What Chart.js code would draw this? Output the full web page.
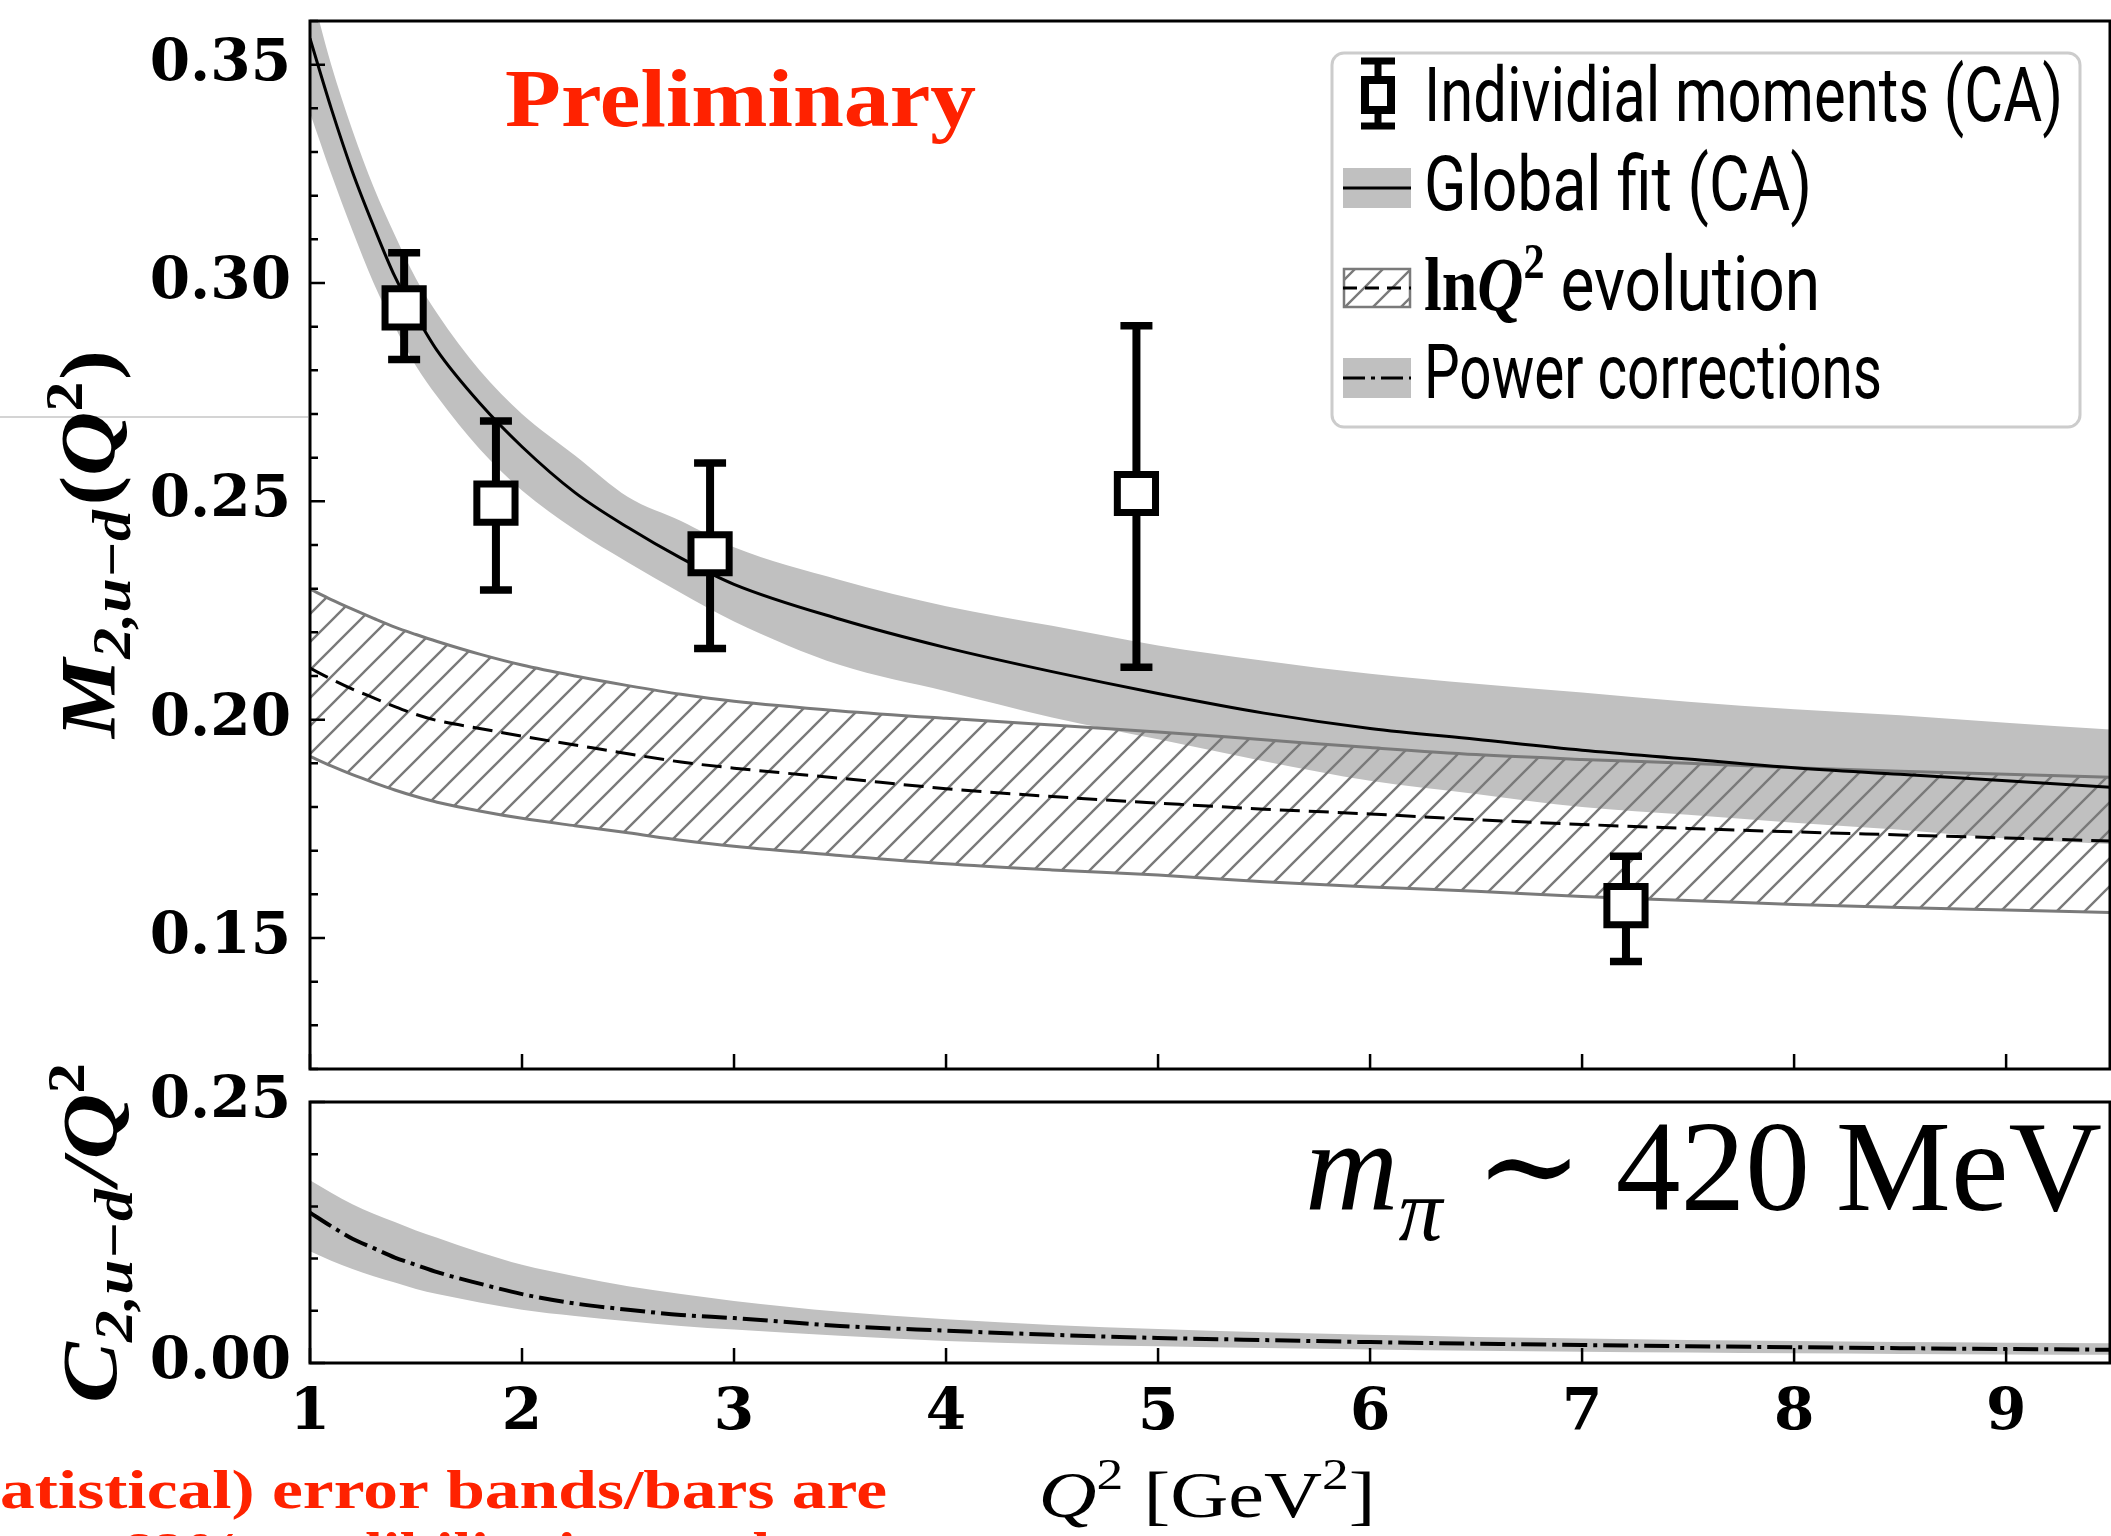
<!DOCTYPE html>
<html>
<head>
<meta charset="utf-8">
<script src="https://cdn.jsdelivr.net/npm/chart.js@4.4.1/dist/chart.umd.min.js"></script>
<style>
  html, body { margin: 0; padding: 0; background: #fff; }
  #wrap { position: relative; width: 2111px; height: 1536px; overflow: hidden; background: #fff; }
  #wrap canvas { position: absolute; left: 0; top: 0; }
</style>
</head>
<body>
<div id="wrap">
  <canvas id="topChart" width="2111" height="1536" style="width:2111px;height:1536px"></canvas>
  <canvas id="bottomChart" width="2111" height="1536" style="width:2111px;height:1536px"></canvas>
</div>
<script>
// ---- values ----
const qGrid = [1, 1.1, 1.2, 1.3, 1.4, 1.5, 1.6, 1.8, 2, 2.25, 2.5, 2.75, 3, 3.5, 4, 4.5, 5, 5.5, 6, 6.5, 7, 7.5, 8, 8.5, 9, 9.5];

// global fit (CA): central line and grey band
const globalFit   = [0.356, 0.340, 0.3255, 0.313, 0.3015, 0.2925, 0.2845, 0.2725, 0.2625, 0.252, 0.244, 0.237, 0.231, 0.223, 0.2165, 0.211, 0.206, 0.2015, 0.198, 0.1955, 0.193, 0.191, 0.189, 0.1875, 0.186, 0.1845];
const globalUpper = [0.368, 0.350, 0.335, 0.322, 0.311, 0.301, 0.293, 0.280, 0.270, 0.2605, 0.251, 0.2455, 0.2395, 0.232, 0.226, 0.2215, 0.217, 0.2135, 0.2105, 0.2082, 0.2062, 0.2041, 0.2024, 0.201, 0.1993, 0.1977];
const globalLower = [0.339, 0.325, 0.312, 0.300, 0.290, 0.281, 0.274, 0.262, 0.2525, 0.2435, 0.236, 0.229, 0.2225, 0.2125, 0.2065, 0.2005, 0.1955, 0.1905, 0.186, 0.183, 0.180, 0.1782, 0.1764, 0.1748, 0.1728, 0.1715];

// ln Q^2 evolution: dashed line and hatched band
const lnEvol      = [0.2118, 0.2093, 0.2070, 0.2050, 0.2030, 0.2012, 0.1998, 0.1980, 0.1962, 0.1942, 0.1922, 0.1903, 0.1889, 0.1866, 0.1842, 0.1824, 0.1809, 0.1795, 0.1784, 0.1771, 0.1760, 0.1751, 0.1743, 0.1736, 0.1729, 0.1722];
const lnEvolUpper = [0.2299, 0.2275, 0.2253, 0.2232, 0.2212, 0.2195, 0.2179, 0.2150, 0.2125, 0.2100, 0.2078, 0.2058, 0.2042, 0.2020, 0.2003, 0.1988, 0.1972, 0.1954, 0.1936, 0.1920, 0.1909, 0.1900, 0.1890, 0.1882, 0.1875, 0.1868];
const lnEvolLower = [0.1916, 0.1894, 0.1874, 0.1856, 0.1839, 0.1824, 0.1811, 0.1791, 0.1774, 0.1757, 0.1741, 0.1724, 0.1710, 0.1689, 0.1670, 0.1656, 0.1644, 0.1629, 0.1617, 0.1607, 0.1595, 0.1586, 0.1577, 0.1570, 0.1564, 0.1558];

// power corrections C/Q^2 (lower panel)
const powerCorr  = [0.144, 0.131, 0.119, 0.110, 0.101, 0.094, 0.087, 0.076, 0.066, 0.057, 0.051, 0.046, 0.043, 0.0355, 0.031, 0.027, 0.024, 0.022, 0.020, 0.0185, 0.0172, 0.0161, 0.0151, 0.0142, 0.0134, 0.0127];
const powerUpper = [0.175, 0.163, 0.152, 0.143, 0.135, 0.127, 0.120, 0.106, 0.094, 0.083, 0.0735, 0.066, 0.0595, 0.049, 0.042, 0.0365, 0.0325, 0.0295, 0.027, 0.025, 0.0235, 0.022, 0.021, 0.020, 0.0195, 0.019];
const powerLower = [0.107, 0.098, 0.090, 0.083, 0.077, 0.071, 0.066, 0.058, 0.051, 0.045, 0.040, 0.0355, 0.032, 0.026, 0.021, 0.018, 0.016, 0.0143, 0.013, 0.0118, 0.0108, 0.0100, 0.0093, 0.0087, 0.0082, 0.0079];

// individual moments (CA) with error bars
const pointsQ  = [1.444, 1.877, 2.887, 4.898, 7.207];
const pointsM  = [0.2943, 0.2496, 0.2380, 0.2518, 0.1574];
const pointsHi = [0.3069, 0.2684, 0.2588, 0.2902, 0.1687];
const pointsLo = [0.2825, 0.2297, 0.2163, 0.2120, 0.1446];

// ticks
const xTicks = [1, 2, 3, 4, 5, 6, 7, 8, 9];
const yTicksTop = [0.15, 0.20, 0.25, 0.30, 0.35];
const yTicksBottom = [0.00, 0.25];

const SERIF = '"Liberation Serif", "DejaVu Serif", serif';
const TICKFONT = { family: '"DejaVu Serif"', weight: 'bold', size: 58 };
const BAND = '#c0c0c0';
const HATCH = '#7a7a7a';

function xy(arr) { return qGrid.map((q, i) => ({ x: q, y: arr[i] })); }

function makeHatch() {
    const c = document.createElement('canvas');
    c.width = 28; c.height = 28;
    const g = c.getContext('2d');
    g.strokeStyle = HATCH;
    g.lineWidth = 2.4;
    g.beginPath();
    [-28, 0, 28].forEach(o => { g.moveTo(o - 2, 30); g.lineTo(o + 30, -2); });
    g.stroke();
    return g.createPattern(c, 'repeat');
}
const hatchPattern = makeHatch();

// draw a run of differently styled text pieces, optionally squeezed to a width
function drawRich(ctx, parts, x, y, opt) {
    ctx.save();
    ctx.translate(x, y);
    if (opt.rotate) ctx.rotate(opt.rotate);
    let w = 0;
    parts.forEach(p => { ctx.font = p.font; w += ctx.measureText(p.t).width + (p.dx || 0); });
    const s = opt.width ? opt.width / w : 1;
    const x0 = opt.align === 'center' ? -w * s / 2 : (opt.align === 'right' ? -w * s : 0);
    ctx.translate(x0, 0);
    ctx.scale(s, 1);
    ctx.fillStyle = opt.color || '#000';
    ctx.textBaseline = 'alphabetic';
    ctx.textAlign = 'left';
    let cx = 0;
    parts.forEach(p => {
        ctx.font = p.font;
        cx += p.dx || 0;
        ctx.fillText(p.t, cx, p.dy || 0);
        cx += ctx.measureText(p.t).width;
    });
    ctx.restore();
}

function frameAndTicks(chart, majorY, minorY) {
    const { ctx, chartArea: a, scales: { x, y } } = chart;
    ctx.save();
    ctx.strokeStyle = '#000';
    ctx.lineWidth = 2.5;
    ctx.beginPath();
    majorY.forEach(v => { const py = y.getPixelForValue(v); ctx.moveTo(a.left, py); ctx.lineTo(a.left + 15, py); });
    minorY.forEach(v => { const py = y.getPixelForValue(v); ctx.moveTo(a.left, py); ctx.lineTo(a.left + 8, py); });
    xTicks.forEach(v => { const px = x.getPixelForValue(v); ctx.moveTo(px, a.bottom); ctx.lineTo(px, a.bottom - 15); });
    ctx.stroke();
    ctx.lineWidth = 3;
    ctx.strokeRect(a.left, a.top, a.right - a.left, a.bottom - a.top);
    ctx.restore();
}

const topDecor = {
    id: 'topDecor',
    beforeDatasetDraw(chart, args) {
        if (args.index !== 0) return;
        const { ctx, scales: { x, y } } = chart;
        ctx.save();
        ctx.strokeStyle = '#000';
        for (let i = 0; i < pointsQ.length; i++) {
            const px = x.getPixelForValue(pointsQ[i]);
            const yt = y.getPixelForValue(pointsHi[i]);
            const yb = y.getPixelForValue(pointsLo[i]);
            ctx.lineWidth = 8;
            ctx.beginPath(); ctx.moveTo(px, yt); ctx.lineTo(px, yb); ctx.stroke();
            ctx.lineWidth = 7.5;
            ctx.beginPath();
            ctx.moveTo(px - 16, yt); ctx.lineTo(px + 16, yt);
            ctx.moveTo(px - 16, yb); ctx.lineTo(px + 16, yb);
            ctx.stroke();
        }
        ctx.restore();
    },
    afterDraw(chart) {
        const ctx = chart.ctx;
        const minor = [];
        for (let k = 12; k <= 36; k++) if (k % 5 !== 0) minor.push(k / 100);
        frameAndTicks(chart, yTicksTop, minor);

        // stray grey rule on the left margin
        ctx.save();
        ctx.strokeStyle = '#d4d4d4'; ctx.lineWidth = 2;
        ctx.beginPath(); ctx.moveTo(0, 417); ctx.lineTo(chart.chartArea.left - 2, 417); ctx.stroke();
        ctx.restore();

        // Preliminary
        drawRich(ctx, [{ t: 'Preliminary', font: 'bold 82px ' + SERIF }], 505, 126, { width: 471, color: '#ff2200' });

        // y title
        drawRich(ctx, [
            { t: 'M', font: 'italic bold 78px ' + SERIF },
            { t: '2,u\u2212d', font: 'italic bold 54px ' + SERIF, dy: 16 },
            { t: '(', font: 'bold 78px ' + SERIF, dx: 4 },
            { t: 'Q', font: 'italic bold 78px ' + SERIF },
            { t: '2', font: 'bold 52px ' + SERIF, dy: -32 },
            { t: ')', font: 'bold 78px ' + SERIF, dx: 2 }
        ], 114, 544, { rotate: -Math.PI / 2, align: 'center', width: 388 });

        // legend
        ctx.save();
        ctx.fillStyle = 'rgba(255,255,255,0.85)';
        ctx.strokeStyle = '#cccccc';
        ctx.lineWidth = 3;
        ctx.beginPath(); ctx.roundRect(1332, 53, 748, 374, 12); ctx.fill(); ctx.stroke();

        // row 1: error bar handle
        ctx.strokeStyle = '#000';
        ctx.lineWidth = 7;
        ctx.beginPath(); ctx.moveTo(1378, 61); ctx.lineTo(1378, 126); ctx.stroke();
        ctx.beginPath(); ctx.moveTo(1361, 61); ctx.lineTo(1395, 61); ctx.moveTo(1361, 126); ctx.lineTo(1395, 126); ctx.stroke();
        ctx.fillStyle = '#fff'; ctx.lineWidth = 8;
        ctx.beginPath(); ctx.rect(1365, 80, 26, 30); ctx.fill(); ctx.stroke();

        // row 2: grey band + solid
        ctx.fillStyle = BAND; ctx.fillRect(1343, 168, 68, 40);
        ctx.lineWidth = 3; ctx.beginPath(); ctx.moveTo(1343, 188); ctx.lineTo(1411, 188); ctx.stroke();

        // row 3: hatch + dashed
        ctx.fillStyle = hatchPattern; ctx.fillRect(1343, 268, 68, 40);
        ctx.strokeStyle = HATCH; ctx.lineWidth = 2.5; ctx.strokeRect(1344, 269, 66, 38);
        ctx.strokeStyle = '#000'; ctx.lineWidth = 3; ctx.setLineDash([14, 8]);
        ctx.beginPath(); ctx.moveTo(1343, 288); ctx.lineTo(1411, 288); ctx.stroke();

        // row 4: grey band + dash-dot
        ctx.fillStyle = BAND; ctx.fillRect(1343, 358, 68, 40);
        ctx.setLineDash([22, 6, 4, 6]);
        ctx.beginPath(); ctx.moveTo(1343, 378); ctx.lineTo(1411, 378); ctx.stroke();
        ctx.setLineDash([]);
        ctx.restore();

        const SANS = '76px Roboto, "DejaVu Sans", sans-serif';
        drawRich(ctx, [{ t: 'Individial moments (CA)', font: SANS }], 1424, 121, { width: 639 });
        drawRich(ctx, [{ t: 'Global fit (CA)', font: SANS }], 1424, 210, { width: 388 });
        drawRich(ctx, [
            { t: 'ln', font: 'bold 76px ' + SERIF },
            { t: 'Q', font: 'italic bold 76px ' + SERIF },
            { t: '2', font: 'bold 50px ' + SERIF, dy: -32 },
            { t: ' evolution', font: SANS }
        ], 1424, 310, { width: 396 });
        drawRich(ctx, [{ t: 'Power corrections', font: SANS }], 1424, 398, { width: 458 });
    }
};

const bottomDecor = {
    id: 'bottomDecor',
    afterDraw(chart) {
        const ctx = chart.ctx;
        frameAndTicks(chart, yTicksBottom, [0.05, 0.10, 0.15, 0.20]);

        drawRich(ctx, [
            { t: 'C', font: 'italic bold 78px ' + SERIF },
            { t: '2,u\u2212d', font: 'italic bold 54px ' + SERIF, dy: 16 },
            { t: '/', font: 'italic bold 78px ' + SERIF, dx: 4 },
            { t: 'Q', font: 'italic bold 78px ' + SERIF },
            { t: '2', font: 'bold 52px ' + SERIF, dy: -32 }
        ], 116, 1233, { rotate: -Math.PI / 2, align: 'center', width: 340 });

        drawRich(ctx, [
            { t: 'm', font: 'italic 130px ' + SERIF },
            { t: '\u03c0', font: 'italic 88px ' + SERIF, dy: 30 },
            { t: ' \u223c ', font: '130px ' + SERIF },
            { t: '420', font: '130px ' + SERIF },
            { t: '\u2009', font: '130px ' + SERIF },
            { t: 'MeV', font: '130px ' + SERIF }
        ], 1305, 1210, { width: 797 });

        drawRich(ctx, [
            { t: 'Q', font: 'italic 66px ' + SERIF },
            { t: '2', font: '44px ' + SERIF, dy: -28 },
            { t: ' [GeV', font: '66px ' + SERIF },
            { t: '2', font: '44px ' + SERIF, dy: -28 },
            { t: ']', font: '66px ' + SERIF }
        ], 1207, 1517, { align: 'center', width: 337 });

        // red note, cut at the left and bottom edges like the source
        ctx.save();
        ctx.font = 'bold 54px ' + SERIF;
        const s = 887 / ctx.measureText('atistical) error bands/bars are').width;
        const wFull = ctx.measureText('(Statistical) error bands/bars are').width * s;
        ctx.restore();
        drawRich(ctx, [{ t: '(Statistical) error bands/bars are', font: 'bold 54px ' + SERIF }], 887 - wFull, 1508, { width: wFull, color: '#ff2200' });
        drawRich(ctx, [{ t: '68% credibility intervals', font: 'bold 54px ' + SERIF }], 120, 1570, { width: 25 * 27, color: '#ff2200' });
    }
};

// fixed axis width, and no extra room reserved for half-height tick labels
function axisWidth(w) { return s => { s.width = w; s.paddingTop = 0; s.paddingBottom = 0; }; }

const baseOptions = {
    responsive: false,
    animation: false,
    events: [],
    plugins: { legend: { display: false }, tooltip: { enabled: false } },
    elements: { point: { radius: 0 }, line: { cubicInterpolationMode: 'monotone' } }
};

const topChart = new Chart(document.getElementById('topChart'), {
    type: 'line',
    data: {
        datasets: [
            { data: pointsQ.map((q, i) => ({ x: q, y: pointsM[i] })), showLine: false, pointStyle: 'rect',
              pointRadius: 27, borderWidth: 7, borderColor: '#000', backgroundColor: '#fff', order: 0 },
            { data: xy(globalFit), borderColor: '#000', borderWidth: 3, fill: false, order: 1 },
            { data: xy(lnEvol), borderColor: '#000', borderWidth: 3, borderDash: [20, 9], fill: false, order: 2 },
            { data: xy(lnEvolUpper), borderColor: HATCH, borderWidth: 3, backgroundColor: hatchPattern, fill: 4, order: 3 },
            { data: xy(lnEvolLower), borderColor: HATCH, borderWidth: 3, fill: false, order: 4 },
            { data: xy(globalUpper), borderWidth: 0, borderColor: BAND, backgroundColor: BAND, fill: 6, order: 5 },
            { data: xy(globalLower), borderWidth: 0, borderColor: BAND, fill: false, order: 6 }
        ]
    },
    options: Object.assign({}, baseOptions, {
        layout: { autoPadding: false, padding: { left: 0, right: 1, top: 21, bottom: 467 } },
        scales: {
            x: { type: 'linear', min: 1, max: 9.49, display: false },
            y: {
                type: 'linear', min: 0.12, max: 0.36,
                grid: { display: false }, border: { display: false },
                afterFit: axisWidth(310),
                afterBuildTicks: s => { s.ticks = yTicksTop.map(v => ({ value: v })); },
                ticks: { font: TICKFONT, color: '#000', padding: 11, callback: v => v.toFixed(2) }
            }
        }
    }),
    plugins: [topDecor]
});

const bottomChart = new Chart(document.getElementById('bottomChart'), {
    type: 'line',
    data: {
        datasets: [
            { data: xy(powerCorr), borderColor: '#000', borderWidth: 4, borderDash: [25, 6, 4, 6], fill: false, order: 0 },
            { data: xy(powerUpper), borderWidth: 0, borderColor: BAND, backgroundColor: BAND, fill: 2, order: 1 },
            { data: xy(powerLower), borderWidth: 0, borderColor: BAND, fill: false, order: 2 }
        ]
    },
    options: Object.assign({}, baseOptions, {
        layout: { autoPadding: false, padding: { left: 0, right: 1, top: 1102, bottom: 0 } },
        scales: {
            x: {
                type: 'linear', min: 1, max: 9.49,
                grid: { display: false }, border: { display: false },
                afterFit: s => { s.height = 173; },
                afterBuildTicks: s => { s.ticks = xTicks.map(v => ({ value: v })); },
                ticks: { font: TICKFONT, color: '#000', padding: 8, maxRotation: 0, autoSkip: false, callback: v => String(v) }
            },
            y: {
                type: 'linear', min: 0, max: 0.25,
                grid: { display: false }, border: { display: false },
                afterFit: axisWidth(310),
                afterBuildTicks: s => { s.ticks = yTicksBottom.map(v => ({ value: v })); },
                ticks: { font: TICKFONT, color: '#000', padding: 11, callback: v => v.toFixed(2) }
            }
        }
    }),
    plugins: [bottomDecor]
});
</script>
</body>
</html>
